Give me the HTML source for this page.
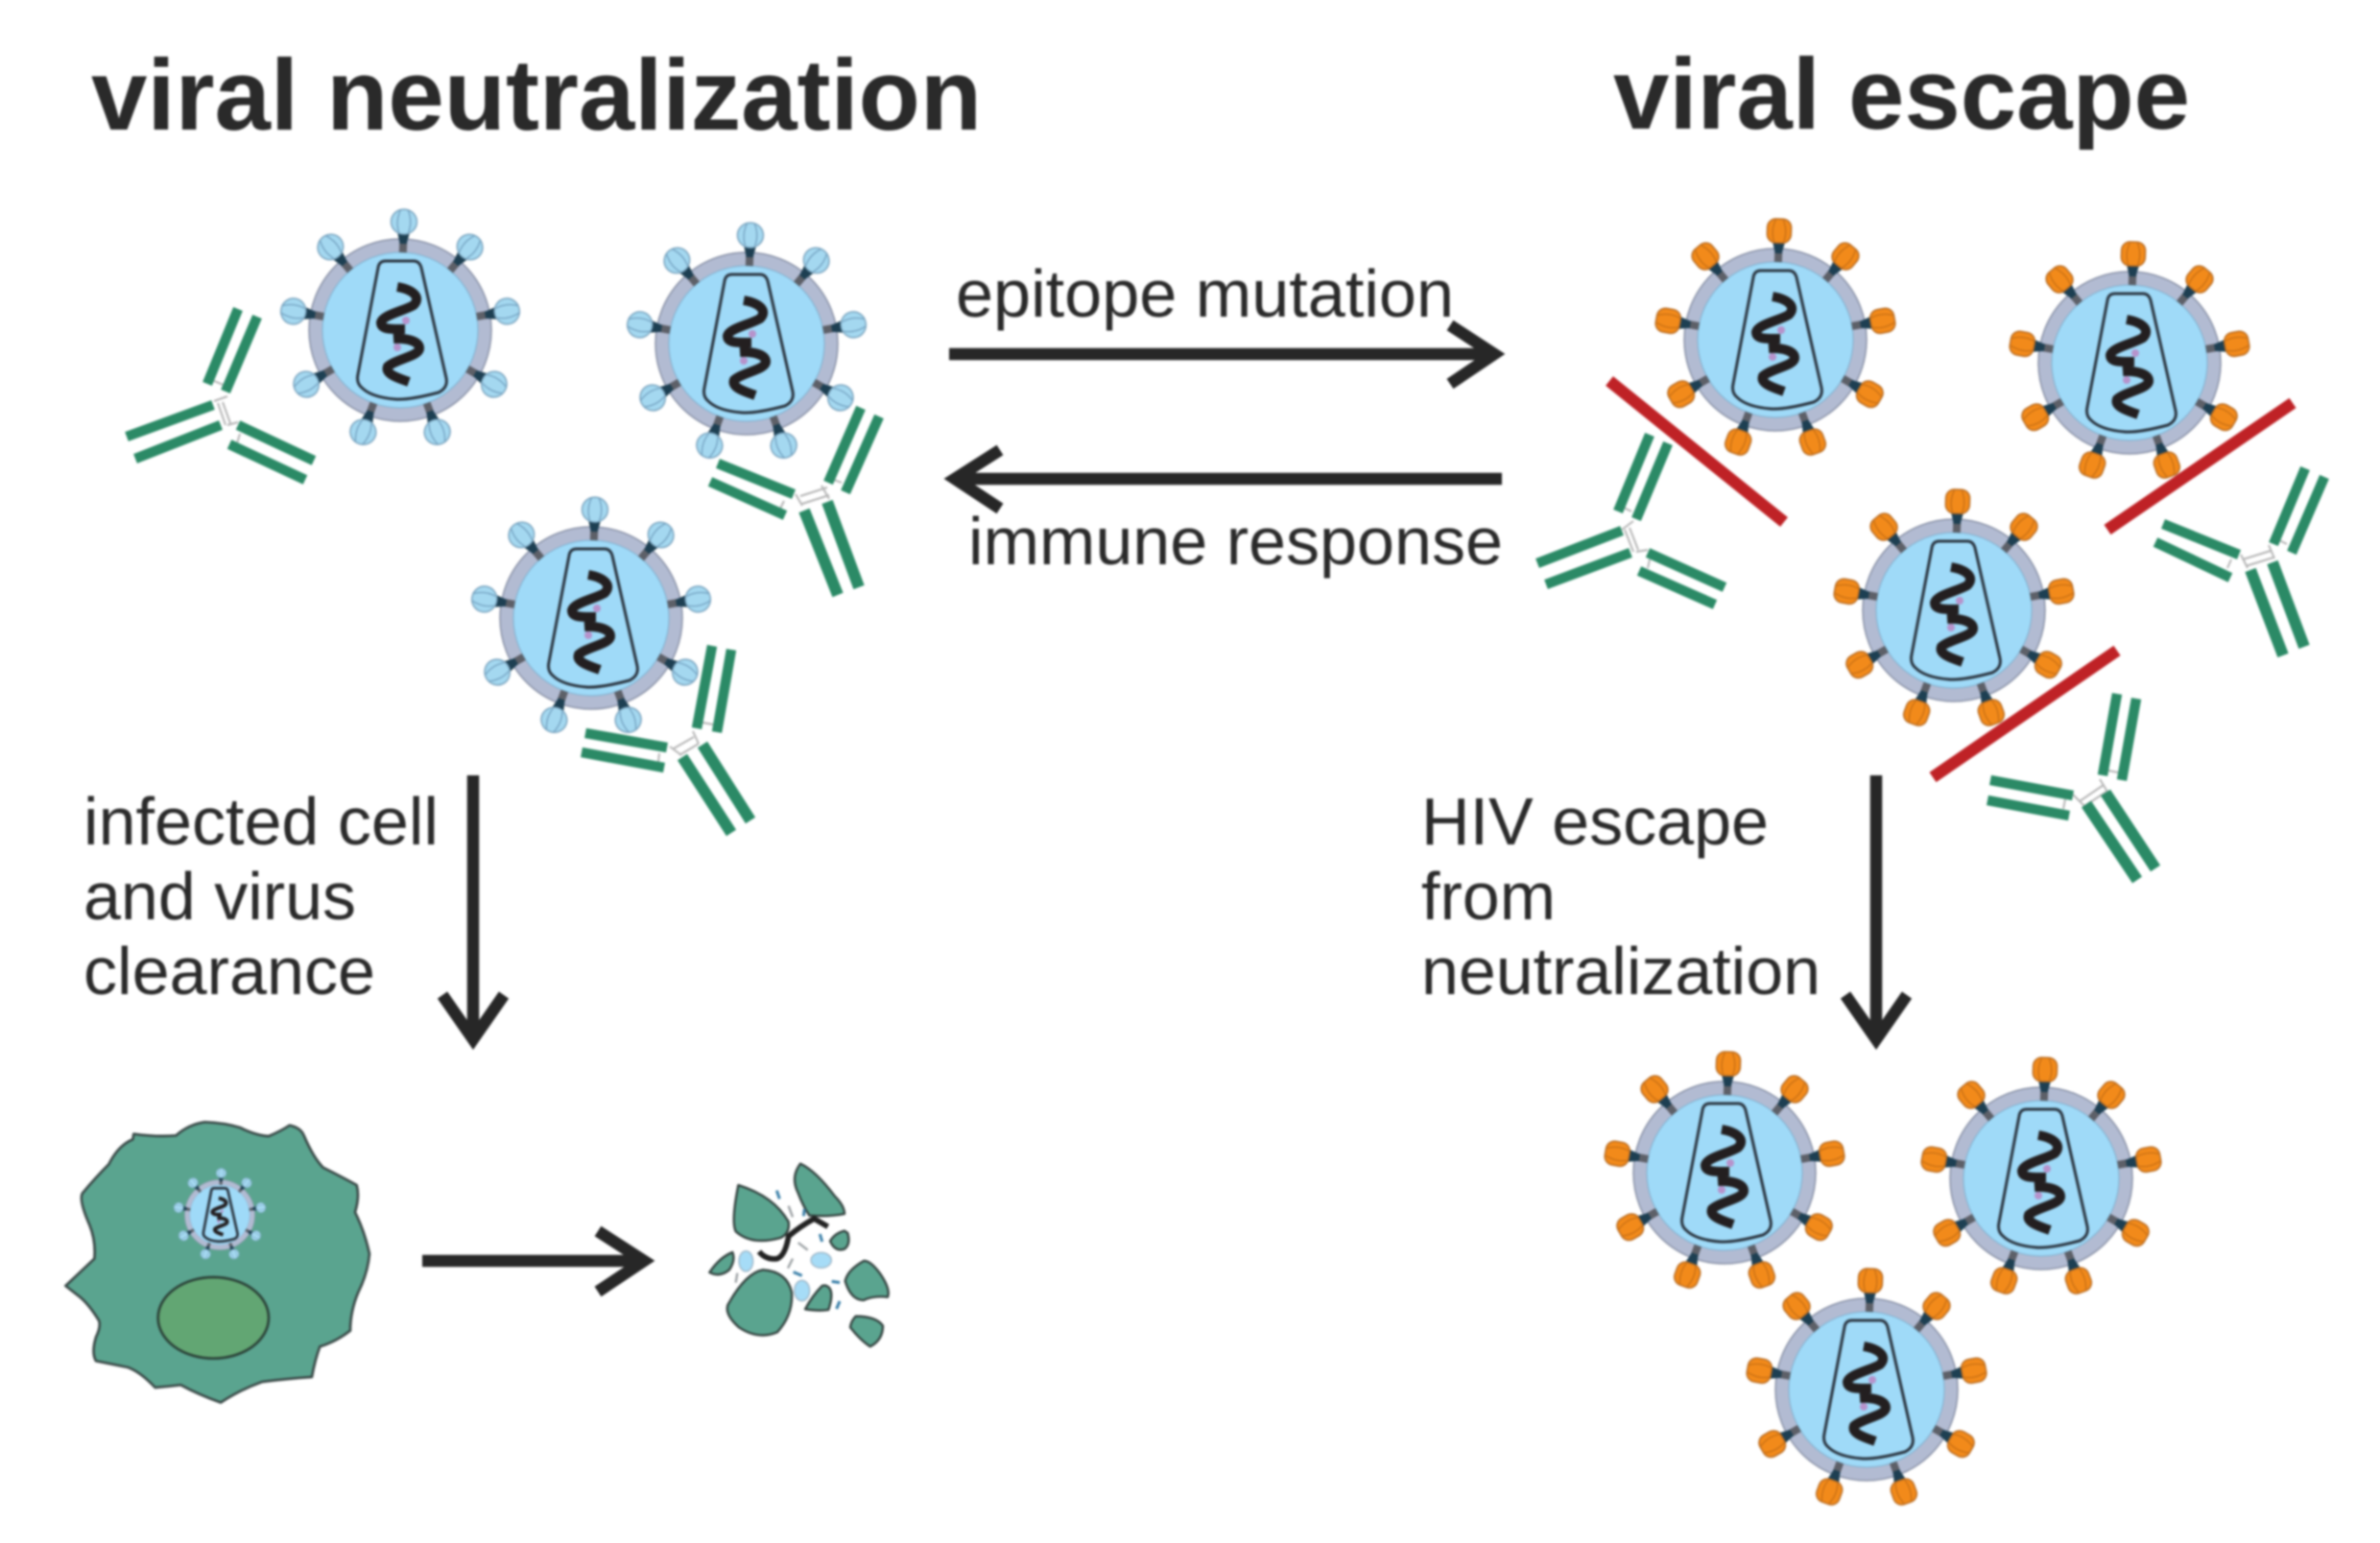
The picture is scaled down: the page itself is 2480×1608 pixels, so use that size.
<!DOCTYPE html>
<html><head><meta charset="utf-8"><style>
html,body{margin:0;padding:0;background:#fff}
svg{display:block}
text{font-family:"Liberation Sans",sans-serif;fill:#2a2a2a}
.t{font-size:105px;font-weight:bold}
.l{font-size:70px}
.ar{fill:none;stroke:#272727;stroke-width:12.5}
.ab{fill:none;stroke:#2b8a66;stroke-width:10.5}
.st{fill:none;stroke:#2b8a66;stroke-width:12}
.hg{fill:none;stroke:#b5b5b5;stroke-width:2}
.rd{stroke:#bf2226;stroke-width:12.5}
</style></head><body>
<svg xmlns="http://www.w3.org/2000/svg" width="2480" height="1608" viewBox="0 0 2480 1608" style="filter:blur(1px)">
<defs>
<g id="stalk"><path d="M0,-81V-93" stroke="#5d6068" stroke-width="8"/><path d="M-3.5,-90L-7,-104H7L3.5,-90Z" fill="#1d3f52"/></g>
<g id="hb"><use href="#stalk"/><ellipse cx="0" cy="-113" rx="13.5" ry="13" fill="#a4d8f0" stroke="#7da6c0" stroke-width="1.5"/><path d="M-5,-102Q-9,-113-4,-125M5,-102Q9,-113 4,-125" fill="none" stroke="#6f9cbc" stroke-width="1.2"/></g>
<g id="ho"><use href="#stalk"/><rect x="-12.5" y="-126" width="25" height="25" rx="9" fill="#f28a1a" stroke="#b96c22" stroke-width="1.5"/><path d="M-5,-102Q-9,-113-4,-125M5,-102Q9,-113 4,-125" fill="none" stroke="#c46d14" stroke-width="1.2"/></g>
<g id="core">
<circle r="95" fill="#b2bbd2" stroke="#8b93a8" stroke-width="1.5"/>
<circle r="81" fill="#9fdaf8" stroke="#7fb0cf" stroke-width="1"/>
<path d="M-23,-65Q-22,-72-15,-72H14Q20,-72 22,-65L48,50Q50,60 40,65Q10,73-5,72Q-30,70-40,60Q-46,55-44,46Z" fill="none" stroke="#2b3540" stroke-width="3"/>
<path d="M-3,-45C14,-42 22,-34 14,-26C4,-20-18,-16-20,-8C-20,0-8,-1 5,-1" fill="none" stroke="#231f20" stroke-width="10"/>
<path d="M-7,9C8,8 20,12 20,19C20,27-4,30-13,38C-16,46-2,50 9,54" fill="none" stroke="#231f20" stroke-width="10"/>
<circle cx="6" cy="-10" r="4" fill="#b693cb"/><circle cx="-3" cy="18" r="4" fill="#b693cb"/>
</g>
<g id="vb"><use href="#core"/><use href="#hb" transform="rotate(2)"/><use href="#hb" transform="rotate(40)"/><use href="#hb" transform="rotate(80)"/><use href="#hb" transform="rotate(120)"/><use href="#hb" transform="rotate(160)"/><use href="#hb" transform="rotate(200)"/><use href="#hb" transform="rotate(240)"/><use href="#hb" transform="rotate(280)"/><use href="#hb" transform="rotate(320)"/></g>
<g id="vo"><use href="#core"/><use href="#ho" transform="rotate(2)"/><use href="#ho" transform="rotate(40)"/><use href="#ho" transform="rotate(80)"/><use href="#ho" transform="rotate(120)"/><use href="#ho" transform="rotate(160)"/><use href="#ho" transform="rotate(200)"/><use href="#ho" transform="rotate(240)"/><use href="#ho" transform="rotate(280)"/><use href="#ho" transform="rotate(320)"/></g>
</defs>

<text class="t" x="95" y="135" textLength="928" lengthAdjust="spacingAndGlyphs">viral neutralization</text>
<text class="t" x="1681" y="134" textLength="601" lengthAdjust="spacingAndGlyphs">viral escape</text>
<text class="l" x="996" y="330" textLength="519" lengthAdjust="spacingAndGlyphs">epitope mutation</text>
<text class="l" x="1009" y="588" textLength="557" lengthAdjust="spacingAndGlyphs">immune response</text>
<text class="l" x="87" y="880" textLength="370" lengthAdjust="spacingAndGlyphs">infected cell</text>
<text class="l" x="87" y="958" textLength="284" lengthAdjust="spacingAndGlyphs">and virus</text>
<text class="l" x="87" y="1036" textLength="304" lengthAdjust="spacingAndGlyphs">clearance</text>
<text class="l" x="1481" y="880" textLength="362" lengthAdjust="spacingAndGlyphs">HIV escape</text>
<text class="l" x="1481" y="958" textLength="140" lengthAdjust="spacingAndGlyphs">from</text>
<text class="l" x="1481" y="1036" textLength="416" lengthAdjust="spacingAndGlyphs">neutralization</text>

<!-- arrows -->
<path class="ar" d="M989,369H1553M1511,339L1557,369L1511,400"/>
<path class="ar" d="M1565,499H999M1042,469L995,499L1042,530"/>
<path class="ar" d="M493,808V1081M461,1037L493,1083L525,1037"/>
<path class="ar" d="M1955,808V1081M1923,1037L1955,1083L1987,1037"/>
<path class="ar" d="M440,1314H671M623,1283L671,1314L623,1346"/>

<!-- viruses -->
<use href="#vb" transform="translate(417,344)"/>
<use href="#vb" transform="translate(778,358)"/>
<use href="#vb" transform="translate(616,644)"/>
<use href="#vo" transform="translate(1850,354)"/>
<use href="#vo" transform="translate(2219,378)"/>
<use href="#vo" transform="translate(2036,636)"/>
<use href="#vo" transform="translate(1797,1222)"/>
<use href="#vo" transform="translate(2127,1228)"/>
<use href="#vo" transform="translate(1945,1448)"/>

<!-- red bars -->
<path class="rd" d="M1677,397L1859,544"/>
<path class="rd" d="M2389,420L2196,552"/>
<path class="rd" d="M2206,678L2014,810"/>

<!-- antibodies -->
<g>
<path class="hg" d="M223,418L237,413M227,420L235,443M232,419L240,441M237,443L248,440M223,397L235,402M250,452L247,462"/>
<path class="ab" d="M248,322L216,400M268,330L235,408M222,422L132,455M230,443L141,478M248,443L327,480M239,463L318,500"/>
</g>
<g>
<path class="hg" d="M834,517L862,508M836,525L864,516M829,515L836,527M856,506L864,520M869,500L877,503M817,522L813,530"/>
<path class="ab" d="M897,425L863,503M916,434L881,513M748,483L827,515M740,502L818,537"/>
<path class="st" d="M862,523L895,612M838,532L873,620"/>
</g>
<g>
<path class="hg" d="M702,780L723,768M708,787L728,775M698,778L710,787M722,762L728,775M732,753L743,755M687,785L686,794"/>
<path class="ab" d="M742,673L726,759M762,677L747,763M610,764L695,779M606,784L692,800"/>
<path class="st" d="M732,776L782,855M711,789L762,868"/>
</g>
<g>
<path class="hg" d="M1693,552L1702,575M1698,550L1707,573M1690,552L1702,543M1705,575L1717,573M1692,529L1700,533M1719,583L1717,592"/>
<path class="ab" d="M1719,453L1686,533M1738,462L1705,541M1690,553L1602,587M1699,576L1611,609M1717,576L1797,612M1708,595L1787,630"/>
</g>
<g>
<path class="hg" d="M2337,583L2366,574M2340,590L2369,581M2335,578L2342,592M2364,568L2370,582M2375,563L2383,567M2325,583L2321,592"/>
<path class="ab" d="M2402,488L2369,567M2422,497L2388,576M2254,546L2333,578M2246,565L2324,602"/>
<path class="st" d="M2368,586L2401,674M2345,594L2379,683"/>
</g>
<g>
<path class="hg" d="M2167,835L2192,818M2172,840L2195,825M2160,828L2172,840M2188,812L2196,825M2197,803L2207,805M2152,833L2150,843"/>
<path class="ab" d="M2206,723L2191,808M2226,728L2211,813M2074,813L2160,829M2071,834L2156,850"/>
<path class="st" d="M2194,826L2246,905M2174,838L2227,917"/>
</g>

<!-- cell -->
<g transform="translate(50,1160) scale(.33333)">
<path d="M55,540L145,455Q150,400 130,350Q95,270 108,250Q150,200 190,160Q220,100 265,82L268,65Q340,75 400,70Q440,35 490,28Q550,30 600,45Q650,70 690,72Q730,55 755,38Q790,45 800,70Q830,140 860,170Q920,200 965,225Q975,260 960,310Q990,370 1005,440Q1000,500 970,560Q945,620 945,680Q900,715 850,730Q835,770 825,825Q750,830 670,840Q600,865 540,905Q470,880 415,850Q375,855 335,858Q290,810 250,795Q200,785 150,775Q135,750 150,700Q165,670 160,650Q130,600 100,575Z" fill="#5aa48f" stroke="#3a4a48" stroke-width="8" stroke-linejoin="round"/>
<ellipse cx="517" cy="640" rx="173" ry="127" fill="#62a673" stroke="#2b4238" stroke-width="8"/>
</g>
<g transform="translate(229,1266) scale(.385)">
<use href="#vb"/>
<path d="M-23,-65Q-22,-72-15,-72H14Q20,-72 22,-65L48,50Q50,60 40,65Q10,73-5,72Q-30,70-40,60Q-46,55-44,46Z" fill="none" stroke="#2b3540" stroke-width="7"/>
</g>

<!-- debris -->
<g transform="translate(720,1210) scale(.33333)">
<g fill="#5aa48f" stroke="#33423f" stroke-width="7" stroke-linejoin="round">
<path d="M148,75Q260,110 305,190Q310,225 280,240Q190,265 140,220Q125,190 148,75Z"/>
<path d="M342,8Q310,50 335,100Q350,140 370,170Q430,175 480,165Q480,140 450,110Q390,30 342,8Z"/>
<path d="M480,218Q450,225 435,250Q450,285 480,275Q500,260 490,225Z"/>
<path d="M130,285Q90,300 58,348Q90,365 120,340Q140,310 130,285Z"/>
<path d="M225,340Q170,350 115,450Q105,480 150,520Q210,560 270,535Q320,480 315,410Q300,345 225,340Z"/>
<path d="M410,390Q380,420 357,463Q400,470 430,465Q445,420 435,400Q425,385 410,390Z"/>
<path d="M540,312Q490,340 482,375Q500,435 540,435Q570,420 615,425Q625,400 590,350Q560,310 540,312Z"/>
<path d="M515,485Q500,500 498,520Q530,560 560,580Q600,560 600,515Q580,485 515,485Z"/>
</g>
<g fill="#a6dcf7" stroke="#9db4c4" stroke-width="4">
<ellipse cx="172" cy="313" rx="22" ry="32"/><ellipse cx="407" cy="310" rx="32" ry="24"/><ellipse cx="347" cy="405" rx="24" ry="32"/>
</g>
<path d="M213,283Q235,310 270,305Q295,295 305,235Q340,205 385,180L428,205" fill="none" stroke="#222" stroke-width="17"/>
<path d="M268,92L277,118M352,172L355,150M403,228L410,252M320,347L347,358M440,376L465,380M455,462L465,438" stroke="#3a7fa8" stroke-width="9" fill="none"/>
<path d="M305,140L318,175M335,255L365,278M303,335L318,305M140,380L145,350" stroke="#9a9fa2" stroke-width="7" fill="none"/>
</g>
</svg>
</body></html>
